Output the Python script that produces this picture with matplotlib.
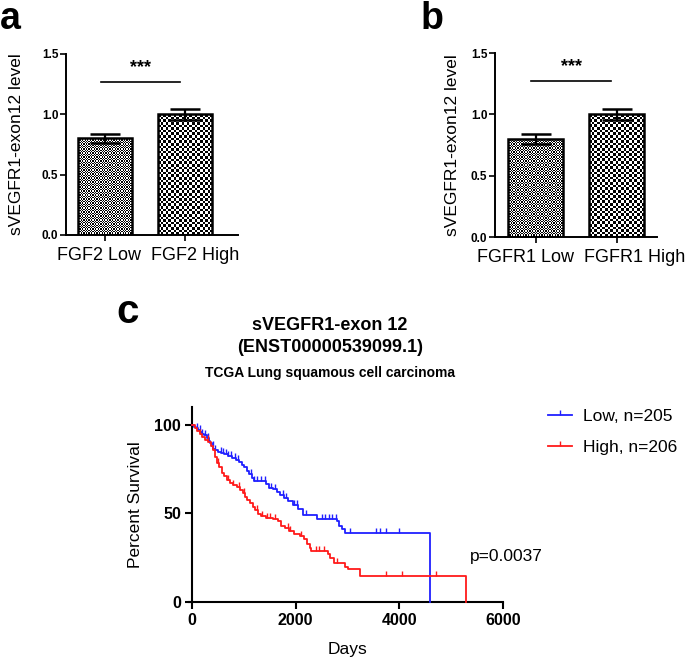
import matplotlib
matplotlib.use("Agg")
import matplotlib.pyplot as plt
import matplotlib.transforms as mtransforms
from matplotlib.lines import Line2D
import numpy as np

plt.rcParams["font.family"] = ["Liberation Sans", "DejaVu Sans"]

# ---- panel a / b data ----
groups_a = ["FGF2 Low", "FGF2 High"]
groups_b = ["FGFR1 Low", "FGFR1 High"]
means_a = [0.80, 1.00]
sem_a = [0.04, 0.045]
means_b = [0.80, 1.00]
sem_b = [0.04, 0.045]
sig_y = 1.27
yticks_bar = [0.0, 0.5, 1.0, 1.5]

# ---- panel c data (Kaplan-Meier steps) ----
low_t = [0, 40, 80, 120, 160, 200, 240, 280, 320, 350, 380, 410, 450, 500, 560,
         620, 700, 780, 850, 900, 960, 1010, 1060, 1100, 1150, 1200, 1380, 1420,
         1480, 1560, 1640, 1700, 1770, 1850, 1950, 2050, 2150, 2410, 2800, 2840,
         2900, 2960, 4600]
low_s = [100, 99, 98, 97, 96, 95, 94, 92.5, 91, 89.5, 88, 86.5, 85.5, 84.5, 84,
         83.5, 82.5, 81.5, 80, 79, 77.5, 76, 74, 72, 70, 68.5, 68, 66.5,
         64.5, 63.5, 62, 60.5, 58.5, 57, 54.5, 52.5, 49, 47, 45.5, 43,
         41, 39, 0]
high_t = [0, 50, 100, 150, 200, 260, 310, 360, 410, 450, 490, 530, 580, 620, 680,
          740, 800, 870, 930, 980, 1030, 1070, 1120, 1170, 1220, 1280, 1330, 1420,
          1560, 1660, 1720, 1800, 1880, 1960, 2080, 2160, 2210, 2270, 2300, 2620,
          2670, 2730, 2960, 3000, 3250, 5290]
high_s = [100, 98, 96.5, 94.5, 93, 91.5, 90, 88, 85.5, 82, 78.5, 76, 73, 71, 69,
          67, 66, 65, 63, 61.5, 59.5, 57.5, 56, 53.5, 52, 49.5, 48.5, 47.5,
          47, 45.5, 43, 41.5, 40, 38.5, 37, 35.5, 33, 30.5, 28.5, 27,
          25, 22, 20, 18.5, 14.5, 0]
low_cens = [100, 150, 200, 250, 300, 400, 450, 550, 600, 650, 700, 750, 820, 880,
            1140, 1200, 1260, 1330, 1400, 1520, 1600, 1750, 1820, 1960, 2020,
            2200, 2500, 2560, 2650, 2700, 2780, 3050, 3550, 3620, 3750, 4000]
high_cens = [150, 300, 500, 700, 800, 900, 1000, 1250, 1350, 1450, 1500, 1600,
             1850, 1900, 2100, 2400, 2450, 2550, 2800, 3750, 4050, 4700]
low_label = "Low, n=205"
high_label = "High, n=206"
p_text = "p=0.0037"

BLUE = "#2020ff"
RED = "#ff1a1a"

fig = plt.figure(figsize=(6.85, 6.57), dpi=100)
W, H = 685.0, 657.0


def px_axes(x0, y0, x1, y1):
    # axes rectangle given in reference pixel coordinates
    return fig.add_axes([x0 / W, 1 - y1 / H, (x1 - x0) / W, (y1 - y0) / H])


def checker(ax, patch, cell_px):
    # black/white checkerboard clipped to a bar
    x, w, h = patch.get_x(), patch.get_width(), patch.get_height()
    (px0, py0), (px1, py1) = ax.transData.transform([(x, 0), (x + w, h)])
    nc = max(int(round(abs(px1 - px0) / cell_px)), 1)
    nr = max(int(round(abs(py1 - py0) / cell_px)), 1)
    ii, jj = np.indices((nr, nc))
    img = ((ii + jj) % 2).astype(float)
    im = ax.imshow(img, cmap="gray", extent=(x, x + w, 0, h), aspect="auto",
                   interpolation="nearest", zorder=1, vmin=0, vmax=1)
    im.set_clip_path(patch)


def bar_panel(ax, groups, means, sems, xlim, shifts, ylabelpad):
    xs = np.arange(len(groups))
    ax.set_xlim(*xlim)
    ax.set_ylim(0, 1.5)
    bars = ax.bar(xs, means, width=0.68, facecolor="none", edgecolor="black",
                  linewidth=1.8, zorder=3)
    for b, cell in zip(bars, [1.3, 2.6]):
        checker(ax, b, cell)
    ax.errorbar(xs, means, yerr=sems, fmt="none", ecolor="black", elinewidth=1.6,
                capsize=11, capthick=1.8, zorder=4)
    ax.plot([xs[0] - 0.05, xs[1] - 0.07], [sig_y, sig_y], color="black", lw=1.2)
    ax.text((xs[0] + xs[1]) / 2 - 0.06, sig_y + 0.05, "***", ha="center",
            va="bottom", fontsize=13, fontweight="bold")
    for s in ["top", "right"]:
        ax.spines[s].set_visible(False)
    for s in ["left", "bottom"]:
        ax.spines[s].set_linewidth(1.4)
    ax.set_yticks(yticks_bar)
    ax.set_yticklabels([f"{v:.1f}" for v in yticks_bar],
                       fontweight="bold", fontsize=8.5)
    ax.set_xticks(xs)
    ax.set_xticklabels([])
    # group names sit slightly off their ticks, as in the original
    base = ax.get_xaxis_transform()
    for x, name, dx in zip(xs, groups, shifts):
        tr = base + mtransforms.ScaledTranslation(dx / 100, -20.5 / 100, fig.dpi_scale_trans)
        ax.text(x, 0, name, transform=tr, ha="center", va="center", fontsize=13,
                clip_on=False)
    ax.tick_params(axis="y", length=4, width=1.2, pad=1.5)
    ax.tick_params(axis="x", length=4, width=1.2, pad=3)
    ax.set_ylabel("sVEGFR1-exon12 level", fontsize=12.5, labelpad=ylabelpad)
    ax.set_facecolor("none")


ax_a = px_axes(66, 54, 238, 235)
bar_panel(ax_a, groups_a, means_a, sem_a, (-0.49, 1.66), [-6, 10], 13)
ax_b = px_axes(495, 53, 657, 237)
bar_panel(ax_b, groups_b, means_b, sem_b, (-0.5, 1.5), [-10, 18], 8)

fig.text(0 / W, 1 - 29 / H, "a", fontsize=27, fontweight="bold", va="baseline")
fig.text(421 / W, 1 - 29 / H, "b", fontsize=27, fontweight="bold", va="baseline")
fig.text(116 / W, 1 - 323 / H, "c", fontsize=29, fontweight="bold", va="baseline")

# ---- panel c ----
ax_c = px_axes(192, 407, 503, 602)
ax_c.set_xlim(0, 6000)
ax_c.set_ylim(0, 110)


def step_at(ts, ss, t):
    idx = np.searchsorted(ts, t, side="right") - 1
    return np.asarray(ss)[idx]


for ts, ss, cens, col in [(low_t, low_s, low_cens, BLUE), (high_t, high_s, high_cens, RED)]:
    ax_c.step(ts, ss, where="post", color=col, lw=1.3, clip_on=False, zorder=3)
    ax_c.plot(cens, step_at(ts, ss, cens), linestyle="none", marker=2, ms=3.5,
              mew=1.0, color=col, zorder=3)

for s in ["top", "right"]:
    ax_c.spines[s].set_visible(False)
for s in ["left", "bottom"]:
    ax_c.spines[s].set_linewidth(1.5)
ax_c.spines["bottom"].set_bounds(-60, 6000)
ax_c.set_xticks([0, 2000, 4000, 6000])
ax_c.set_yticks([0, 50, 100])
ax_c.tick_params(length=5, width=1.5, labelsize=11.5, pad=3)
for lab in ax_c.get_xticklabels() + ax_c.get_yticklabels():
    lab.set_fontweight("bold")
ax_c.set_xlabel("Days", fontsize=12.5, labelpad=10)
ax_c.set_ylabel("Percent Survival", fontsize=12.5, labelpad=8)

fig.text(330 / W, 1 - 325 / H, "sVEGFR1-exon 12", ha="center", va="center",
         fontsize=13, fontweight="bold")
fig.text(330 / W, 1 - 347 / H, "(ENST00000539099.1)", ha="center", va="center",
         fontsize=13, fontweight="bold")
fig.text(330 / W, 1 - 373 / H, "TCGA Lung squamous cell carcinoma", ha="center",
         va="center", fontsize=10, fontweight="bold")

handles = [Line2D([], [], color=BLUE, lw=1.3, marker=2, ms=3.5, mew=1.0),
           Line2D([], [], color=RED, lw=1.3, marker=2, ms=3.5, mew=1.0)]
fig.legend(handles, [low_label, high_label], loc="upper left",
           bbox_to_anchor=(548 / W, 1 - 409 / H), frameon=False, fontsize=12.5,
           handlelength=1.4, handletextpad=0.6, borderpad=0, borderaxespad=0,
           labelspacing=0.9, numpoints=1)
fig.text(470 / W, 1 - 557 / H, p_text, fontsize=12.5, va="center")

fig.savefig("out.png", dpi=100)
